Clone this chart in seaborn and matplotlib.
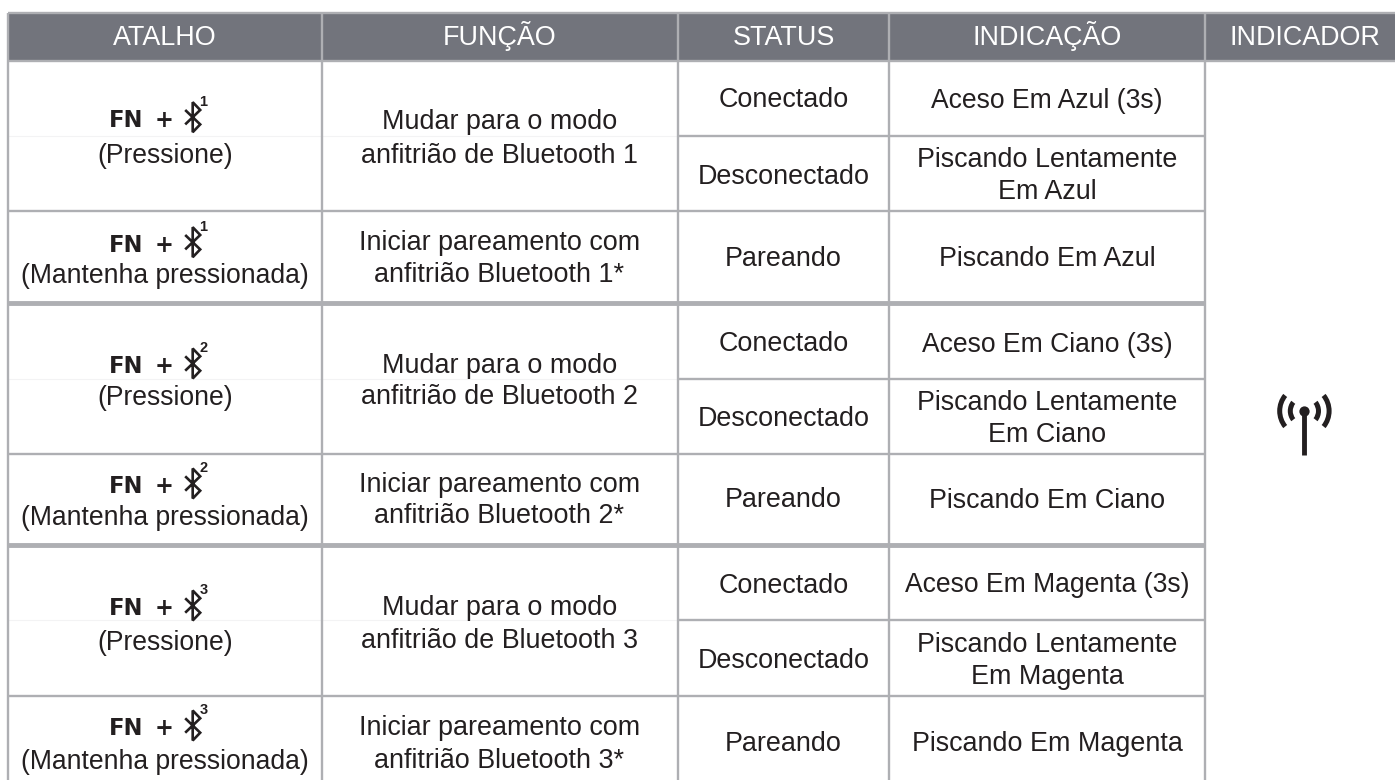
import pandas as pd
import matplotlib
matplotlib.use("Agg")
import matplotlib.pyplot as plt
from matplotlib.patches import PathPatch, Wedge
from matplotlib.path import Path
import seaborn as sns

headers = ["ATALHO", "FUNÇÃO", "STATUS", "INDICAÇÃO", "INDICADOR"]
shortcut_keys = ["1", "1", "2", "2", "3", "3"]
shortcut_notes = ["(Pressione)", "(Mantenha pressionada)"] * 3
functions = ["Mudar para o modo\nanfitrião de Bluetooth 1",
             "Iniciar pareamento com\nanfitrião Bluetooth 1*",
             "Mudar para o modo\nanfitrião de Bluetooth 2",
             "Iniciar pareamento com\nanfitrião Bluetooth 2*",
             "Mudar para o modo\nanfitrião de Bluetooth 3",
             "Iniciar pareamento com\nanfitrião Bluetooth 3*"]
statuses = ["Conectado", "Desconectado", "Pareando"] * 3
indications = ["Aceso Em Azul (3s)", "Piscando Lentamente\nEm Azul", "Piscando Em Azul",
               "Aceso Em Ciano (3s)", "Piscando Lentamente\nEm Ciano", "Piscando Em Ciano",
               "Aceso Em Magenta (3s)", "Piscando Lentamente\nEm Magenta", "Piscando Em Magenta"]

# layout in pixels
col_edges = [8.3, 322, 677.5, 889, 1205, 1395]
col_centers = [165, 499.5, 783.5, 1047, 1304.5]
group_edges = [61, 211, 303, 454, 545, 696]
sub_edges = [136, 379, 620]
thick_lines = [303, 545]

# text baselines
fn_base = [126.7, 251.7, 373, 493, 615, 735]
note_base = [162.7, 283, 405, 525, 650, 769]
func_base = [(129, 162.7), (250, 281.7), (372.7, 404), (491.7, 523), (615, 648), (735, 768)]
stat_base = [107, 184, 265.7, 350.7, 426, 507, 592.7, 667.7, 750.7]
ind_base = [(108,), (167, 199), (265.7,), (351.7,), (409.7, 441.7), (507.7,),
            (592,), (651.7, 684), (750.7,)]

LINE = "#aeafb3"
HEAD = "#72747c"
INK = "#231f20"
SIZE = 19.4

sns.set_theme(style="white")
plt.rcParams["font.family"] = ["Liberation Sans", "DejaVu Sans"]

fig = plt.figure(figsize=(13.95, 7.8), dpi=100)
ax = fig.add_axes([0, 0, 1, 1])

ax.axhspan(13, 61, xmin=8 / 1395, color=HEAD, lw=0, zorder=0)

# grid lines
segs = []
def add_seg(x0, y0, x1, y1, kind):
    n = len(segs)
    segs.append({"seg": n, "x": x0, "y": y0, "kind": kind})
    segs.append({"seg": n, "x": x1, "y": y1, "kind": kind})

for y in sub_edges:
    add_seg(col_edges[0], y, col_edges[2], y, "seam")
    add_seg(col_edges[2], y, col_edges[4], y, "thin")
for x in col_edges[:-1]:
    add_seg(x, 13, x, 780, "thin")
add_seg(8, 13, 1395, 13, "thin")
add_seg(8, 61, 1395, 61, "thin")
for y in group_edges[1:]:
    add_seg(8, y, 1205, y, "thick" if y in thick_lines else "thin")
grid = pd.DataFrame(segs)
for kind, lw, col in [("seam", 0.8, "#f3f3f4"), ("thin", 1.7, LINE), ("thick", 3.5, LINE)]:
    sns.lineplot(data=grid[grid.kind == kind], x="x", y="y", units="seg", estimator=None,
                 color=col, lw=lw, ax=ax, legend=False, zorder=1, solid_capstyle="butt")
ax.set_xlim(0, 1395)
ax.set_ylim(780, 0)
ax.axis("off")

# header
for i, h in enumerate(headers):
    ax.text(col_centers[i], 45, h, color="white", fontsize=SIZE, ha="center", va="baseline")


def bluetooth(cx, top, bottom):
    h = bottom - top
    w = h * 0.25
    mid = (top + bottom) / 2
    pts = [(cx - w, mid - h * 0.24), (cx + w, mid + h * 0.24), (cx, bottom), (cx, top),
           (cx + w, mid - h * 0.24), (cx - w, mid + h * 0.24)]
    ax.add_patch(PathPatch(Path(pts), fill=False, ec=INK, lw=1.9, capstyle="butt", joinstyle="miter"))


def body(x, ys, s, size=SIZE):
    for y, line in zip(ys, s.split("\n")):
        ax.text(x, y, line, color=INK, fontsize=size, ha="center", va="baseline")


# shortcut and function columns
for i in range(6):
    y = fn_base[i]
    ax.text(126.5, y, "FN", color=INK, fontsize=16.3, fontweight="bold", family="DejaVu Sans",
            ha="center", va="baseline")
    ax.text(164.5, y, "+", color=INK, fontsize=16.3, fontweight="bold", family="DejaVu Sans",
            ha="center", va="baseline")
    bluetooth(192.7, y - 24.5, y + 5.5)
    ax.text(203.5, y - 20.5, shortcut_keys[i], color=INK, fontsize=10.5, fontweight="bold",
            ha="center", va="baseline")
    body(col_centers[0], [note_base[i]], shortcut_notes[i], size=19.1)
    body(col_centers[1], func_base[i], functions[i])

# status and indication columns
for i in range(9):
    body(col_centers[2], [stat_base[i]], statuses[i])
    body(col_centers[3], ind_base[i], indications[i], size=19.1 if "3s" in indications[i] else SIZE)

# antenna symbol
ax.plot([1304.4, 1304.4], [411, 455], color=INK, lw=3.5, solid_capstyle="butt")
ax.plot([1304.4], [411], "o", color=INK, ms=7.4, mew=0)
for r, half in [(16.6, 38), (27.2, 39)]:
    ax.add_patch(Wedge((1304.4, 411), r, 180 - half, 180 + half, width=5, color=INK, lw=0))
    ax.add_patch(Wedge((1304.4, 411), r, -half, half, width=5, color=INK, lw=0))

fig.savefig("out.png", dpi=100, facecolor="white")
